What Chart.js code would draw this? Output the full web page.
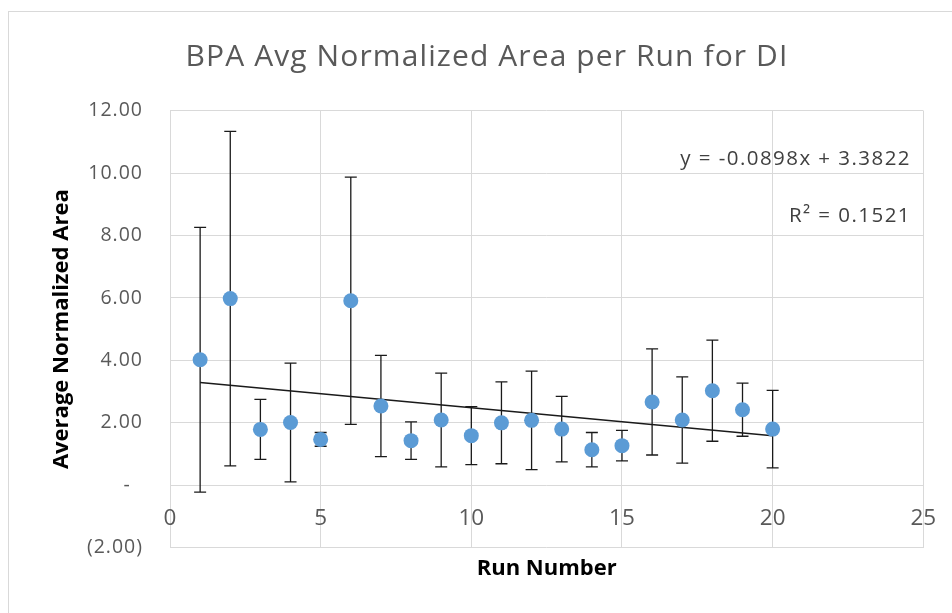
<!DOCTYPE html>
<html><head><meta charset="utf-8">
<script src="https://cdn.jsdelivr.net/npm/chart.js@4.4.0/dist/chart.umd.min.js"></script>
<style>html,body{margin:0;padding:0;background:#fff;overflow:hidden}canvas{display:block}</style>
</head><body>
<canvas id="c" width="952" height="613"></canvas>
<script>
const runNumbers = [1, 2, 3, 4, 5, 6, 7, 8, 9, 10, 11, 12, 13, 14, 15, 16, 17, 18, 19, 20];
const avgNormalizedArea = [4.02, 5.98, 1.79, 2.01, 1.47, 5.91, 2.54, 1.43, 2.09, 1.59, 2.00, 2.08, 1.80, 1.14, 1.27, 2.67, 2.09, 3.03, 2.42, 1.80];
const errorAmounts = [4.24, 5.36, 0.96, 1.90, 0.22, 3.96, 1.62, 0.60, 1.50, 0.93, 1.31, 1.58, 1.05, 0.55, 0.49, 1.70, 1.38, 1.62, 0.85, 1.24];
const trendSlope = -0.0898;
const trendIntercept = 3.3822;
const trendRange = [1, 20];
const titleText = 'BPA Avg Normalized Area per Run for DI';
const xAxisTitle = 'Run Number';
const yAxisTitle = 'Average Normalized Area';
const equationText = 'y = -0.0898x + 3.3822';
const rSquaredText = 'R\u00B2 = 0.1521';

const FONT = 'Open Sans';

function setSpacing(c, px) {
  if ('letterSpacing' in c) c.letterSpacing = px + 'px';
}

const chartBorder = {
  id: 'chartBorder',
  beforeDraw(chart) {
    const c = chart.ctx;
    setSpacing(c, 0);
    c.save();
    c.fillStyle = '#ffffff';
    c.fillRect(0, 0, chart.width, chart.height);
    c.strokeStyle = '#d9d9d9';
    c.lineWidth = 1;
    c.strokeRect(8.5, 11.5, chart.width + 20, chart.height + 20);
    c.restore();
  }
};

const errorBars = {
  id: 'errorBars',
  beforeDatasetsDraw(chart) {
    const c = chart.ctx, xs = chart.scales.x, ys = chart.scales.y;
    c.save();
    c.strokeStyle = '#1a1a1a';
    c.lineWidth = 1.3;
    runNumbers.forEach((r, i) => {
      const px = xs.getPixelForValue(r);
      const top = ys.getPixelForValue(avgNormalizedArea[i] + errorAmounts[i]);
      const bot = ys.getPixelForValue(avgNormalizedArea[i] - errorAmounts[i]);
      c.beginPath();
      c.moveTo(px, top); c.lineTo(px, bot);
      c.moveTo(px - 6, top); c.lineTo(px + 6, top);
      c.moveTo(px - 6, bot); c.lineTo(px + 6, bot);
      c.stroke();
    });
    c.restore();
  },
  afterDatasetsDraw(chart) {
    // y tick labels (z:1) are drawn after this hook, with slightly wider spacing
    setSpacing(chart.ctx, 1.0);
  }
};

const textLayer = {
  id: 'textLayer',
  afterDraw(chart) {
    const c = chart.ctx, xs = chart.scales.x, ys = chart.scales.y;
    c.save();
    // chart title
    setSpacing(c, 1.1);
    c.fillStyle = '#595959';
    c.font = '30px "' + FONT + '"';
    c.textAlign = 'center';
    c.textBaseline = 'alphabetic';
    c.fillText(titleText, 487, 65.5);
    // x tick labels next to the y = 0 axis
    setSpacing(c, 0);
    c.font = '22.5px "' + FONT + '"';
    const y0 = ys.getPixelForValue(0);
    xs.ticks.forEach(t => {
      c.fillText(String(t.value), xs.getPixelForValue(t.value), y0 + 40);
    });
    // trendline equation
    setSpacing(c, 1.45);
    c.fillStyle = '#404040';
    c.font = '20.5px "' + FONT + '"';
    c.textAlign = 'right';
    c.fillText(equationText, 911, 165);
    c.fillText(rSquaredText, 911, 222);
    c.restore();
    setSpacing(c, 0);
  }
};

new Chart(document.getElementById('c'), {
  type: 'scatter',
  data: {
    datasets: [
      {
        label: 'Trendline',
        type: 'line',
        data: trendRange.map(x => ({ x: x, y: trendSlope * x + trendIntercept })),
        borderColor: '#1a1a1a',
        borderWidth: 1.5,
        pointRadius: 0,
        fill: false,
        order: 2
      },
      {
        label: 'Average Normalized Area',
        data: runNumbers.map((x, i) => ({ x: x, y: avgNormalizedArea[i] })),
        backgroundColor: '#5b9bd5',
        borderColor: '#5b9bd5',
        pointRadius: 7.5,
        pointBorderWidth: 0,
        order: 1
      }
    ]
  },
  options: {
    responsive: false,
    animation: false,
    devicePixelRatio: 1,
    layout: { padding: { left: 0, right: 28.7, top: 110.7, bottom: 0 } },
    plugins: {
      legend: { display: false },
      tooltip: { enabled: false },
      title: { display: false }
    },
    scales: {
      x: {
        type: 'linear',
        min: 0, max: 25,
        ticks: { stepSize: 5, display: false },
        grid: { color: '#d9d9d9', lineWidth: 1, drawTicks: false },
        border: { display: false },
        title: {
          display: true, text: xAxisTitle, color: '#000000',
          font: { family: FONT, size: 22, weight: 'bold' },
          padding: { top: 0, bottom: 31 }
        },
        afterFit(s) { s.height = 65.3; }
      },
      y: {
        type: 'linear',
        min: -2, max: 12,
        ticks: {
          stepSize: 2,
          z: 1,
          color: '#595959',
          font: { family: FONT, size: 19.5 },
          padding: 27,
          callback(v) {
            if (v === 0) return '-  ';
            if (v < 0) return '(' + Math.abs(v).toFixed(2) + ')';
            return v.toFixed(2);
          }
        },
        grid: { color: '#d9d9d9', lineWidth: 1, drawTicks: false },
        border: { display: false },
        title: {
          display: true, text: yAxisTitle, color: '#000000',
          font: { family: FONT, size: 22, weight: 'bold' },
          padding: { top: 48.8, bottom: 0 }
        },
        afterFit(s) { s.width = 170; }
      }
    }
  },
  plugins: [chartBorder, errorBars, textLayer]
});
</script>
</body></html>
